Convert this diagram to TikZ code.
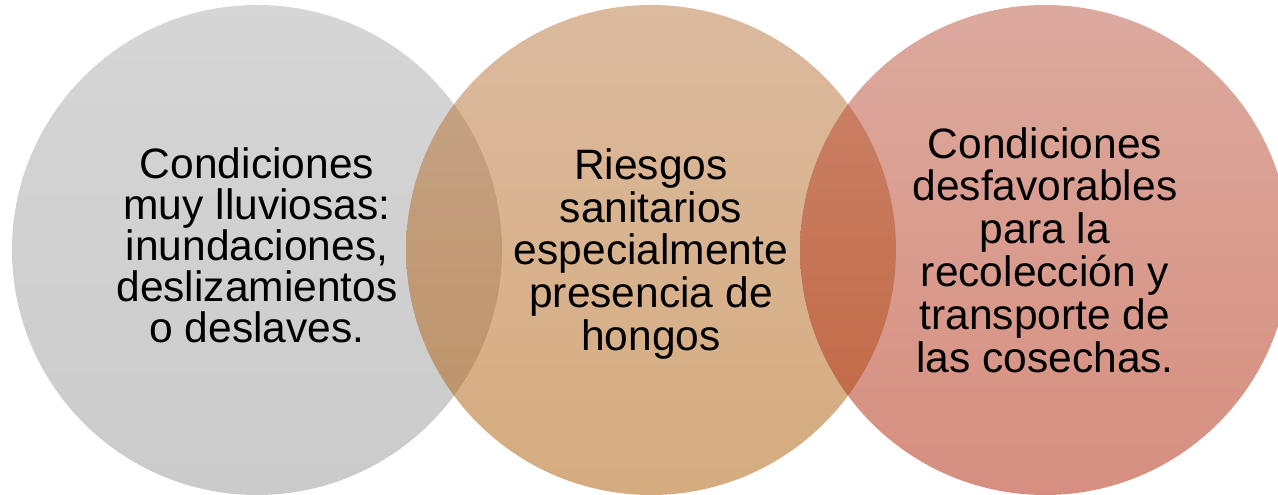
\documentclass[tikz,border=0pt]{standalone}
\usepackage{fontspec}
\setmainfont{Liberation Sans}
\usetikzlibrary{shapes,positioning}
\definecolor{grisA}{RGB}{173,173,173}
\definecolor{grisB}{RGB}{151,151,151}
\definecolor{ocreA}{RGB}{185,117,61}
\definecolor{ocreB}{RGB}{171,89,0}
\definecolor{rojoA}{RGB}{187,83,61}
\definecolor{rojoB}{RGB}{173,31,0}
\tikzset{riesgo/.style={circle, minimum size=9.8cm, inner sep=0pt, align=center, fill opacity=0.5, text opacity=1, font=\fontsize{24.2}{23.3}\selectfont}}
\tikzstyle{ancho}=[font=\fontsize{24.2}{24.4}\selectfont]

\begin{document}
\begin{tikzpicture}[node distance=7.88cm]
\useasboundingbox (0,0) rectangle (25.56,9.9);
\clip (0,0) rectangle (25.56,9.9);
\node[riesgo, top color=grisA, bottom color=grisB, text depth=0.2cm] at (5.14,4.9) (R1){Condiciones\\muy lluviosas:\\inundaciones,\\deslizamientos\\o deslaves.};
\node[riesgo, ancho, top color=ocreA, bottom color=ocreB, text depth=0.02cm][right of =R1] (R2){Riesgos\\sanitarios\\especialmente\\presencia de\\hongos};
\node[riesgo, ancho, top color=rojoA, bottom color=rojoB][right of =R2] (R3){Condiciones\\desfavorables\\para la\\recolección y\\transporte de\\las cosechas.};
\end{tikzpicture}
\end{document}
